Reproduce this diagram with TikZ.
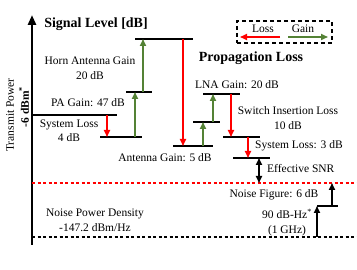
\documentclass[tikz,border=0pt]{standalone}
\usepackage{fontspec}
\setmainfont{Liberation Serif}
\usetikzlibrary{arrows.meta}
\definecolor{lossred}{RGB}{255,0,0}
\definecolor{gaingreen}{RGB}{84,130,53}
\begin{document}
\begin{tikzpicture}[x=1pt,y=-1pt,
  lvl/.style={line width=1.8pt},
  tipA/.style={-{Triangle[length=7pt,width=6pt]}},
  loss/.style={draw=lossred,line width=1.6pt,tipA},
  gain/.style={draw=gaingreen,line width=1.6pt,tipA},
  blk/.style={draw=black,line width=1.6pt,tipA},
  dbl/.style={draw=black,line width=1.6pt,{Triangle[length=7pt,width=6pt]}-{Triangle[length=7pt,width=6pt]}},
  lbl/.style={font=\fontsize{11.5}{14.5}\selectfont,inner sep=0pt,align=center},
  ttl/.style={font=\fontsize{14}{16}\selectfont\bfseries,inner sep=0pt},
  dsh/.style={line width=1.3pt,dash pattern=on 3pt off 2.5pt},
]
\useasboundingbox (0,0) rectangle (357,270);

% axis
\coordinate (axb) at (32,245);
\coordinate (axt) at (32,15);
\draw[line width=2.6pt,-{Triangle[length=10pt,width=8pt]}] (axb) -- (axt);
\node[ttl] (title) at (96,24) {Signal Level [dB]};
\node[lbl,rotate=90] (txp) at (10,115) {Transmit Power};
\node[lbl,rotate=90,font=\fontsize{11.5}{14}\selectfont\bfseries] (txv) at (24,107) {-6 dBm\textsuperscript{*}};

% level lines
\coordinate (tx1) at (32,115);  \coordinate (tx2) at (117,115);
\coordinate (s1)  at (100,137); \coordinate (s2)  at (142,137);
\coordinate (p1)  at (126,92);  \coordinate (p2)  at (152,92);
\coordinate (h1)  at (135,39);  \coordinate (h2)  at (193,39);
\coordinate (a1)  at (173,146); \coordinate (a2)  at (213,146);
\coordinate (g1)  at (193,122); \coordinate (g2)  at (220,122);
\coordinate (l1)  at (203,94);  \coordinate (l2)  at (240,94);
\coordinate (w1)  at (223,137); \coordinate (w2)  at (260,137);
\coordinate (y1)  at (233,158); \coordinate (y2)  at (270,158);
\coordinate (n1)  at (317,206); \coordinate (n2)  at (338,206);
\foreach \a/\b in {tx1/tx2,s1/s2,p1/p2,h1/h2,a1/a2,g1/g2,l1/l2,w1/w2,y1/y2,n1/n2}
  \draw[lvl] (\a) -- (\b);

% noise floors
\coordinate (r1) at (32,183);  \coordinate (r2) at (357,183);
\coordinate (k1) at (32,237);  \coordinate (k2) at (357,237);
\draw[dsh,draw=lossred] (r1) -- (r2);
\draw[dsh,draw=black] (k1) -- (k2);

% step arrows
\draw[loss] (107,115) -- (107,137);
\draw[gain] (135,137) -- (135,92);
\draw[gain] (143,92) -- (143,39);
\draw[loss] (183,39) -- (183,146);
\draw[gain] (203,146) -- (203,122);
\draw[gain] (213,122) -- (213,94);
\draw[loss] (231,94) -- (231,137);
\draw[loss] (248,137) -- (248,158);
\draw[dbl] (259,158) -- (259,183);
\draw[blk] (332,206) -- (332,183);
\draw[blk] (317,237) -- (317,206);

% labels
\node[lbl] (horn) at (90,68) {Horn Antenna Gain\\20 dB};
\node[lbl] (pag) at (88,103) {PA Gain: 47 dB};
\node[lbl] (sysl) at (69,130.5) {System Loss\\4 dB};
\node[lbl] (antg) at (165,158) {Antenna Gain: 5 dB};
\node[ttl] (prop) at (251,58) {Propagation Loss};
\node[lbl] (lna) at (237,85) {LNA Gain: 20 dB};
\node[lbl] (swl) at (288,118) {Switch Insertion Loss\\10 dB};
\node[lbl,anchor=west] (sl3) at (255,146) {System Loss: 3 dB};
\node[lbl,anchor=west] (snr) at (267,169) {Effective SNR};
\node[lbl] (nf) at (274,195) {Noise Figure: 6 dB};
\node[lbl] (bw) at (287,222.5) {90 dB-Hz\textsuperscript{*}\\(1 GHz)};
\node[lbl] (npd) at (95,220.5) {Noise Power Density\\-147.2 dBm/Hz};

% legend
\node[draw,line width=1.5pt,dash pattern=on 4pt off 3pt,minimum width=95pt,minimum height=22pt,inner sep=0pt] (leg) at (284.5,32) {};
\node[lbl] (lloss) at (263,29) {Loss};
\node[lbl] (lgain) at (303,29) {Gain};
\coordinate (lr1) at (280,37); \coordinate (lr2) at (240,37);
\coordinate (lg1) at (288,37); \coordinate (lg2) at (328,37);
\draw[loss] (lr1) -- (lr2);
\draw[gain] (lg1) -- (lg2);
\end{tikzpicture}
\end{document}
